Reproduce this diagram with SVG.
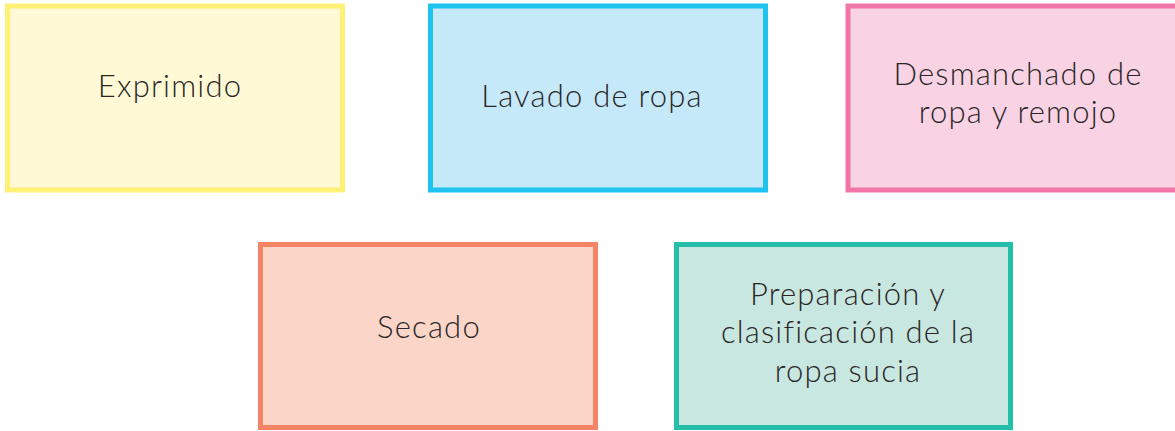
<svg xmlns="http://www.w3.org/2000/svg" width="1175" height="431" viewBox="0 0 1175 431">
<style>
.box{stroke-width:5}
.t{font-family:Lato,"Noto Sans",sans-serif;font-weight:300;font-size:31px;letter-spacing:1.2px;font-variant-ligatures:none;fill:#2a2627;text-anchor:middle}
</style>
<rect width="1175" height="431" fill="#ffffff"/>
<g id="connectors"></g>
<g id="exprimido">
<rect class="box" x="7.5" y="6" width="335" height="184" fill="#FFF9D5" stroke="#FFF176"/>
<text class="t" x="170" y="97">Exprimido</text>
</g>
<g id="lavado">
<rect class="box" x="430.5" y="6" width="335" height="184" fill="#C5E9F8" stroke="#1EC3F0"/>
<text class="t" x="592" y="107">Lavado de ropa</text>
</g>
<g id="desmanchado">
<rect class="box" x="848" y="6" width="335" height="184" fill="#F9D3E4" stroke="#F075A8"/>
<text class="t" x="1018" y="85">Desmanchado de</text>
<text class="t" x="1018" y="123">ropa y remojo</text>
</g>
<g id="secado">
<rect class="box" x="260.5" y="244.5" width="335" height="183" fill="#FBD5C8" stroke="#F58466"/>
<text class="t" x="429" y="338">Secado</text>
</g>
<g id="preparacion">
<rect class="box" x="676.5" y="244.5" width="334" height="183" fill="#C8E7E0" stroke="#25BEAA"/>
<text class="t" x="848" y="305">Preparación y</text>
<text class="t" x="848" y="343">clasificación de la</text>
<text class="t" x="848" y="382">ropa sucia</text>
</g>
</svg>
